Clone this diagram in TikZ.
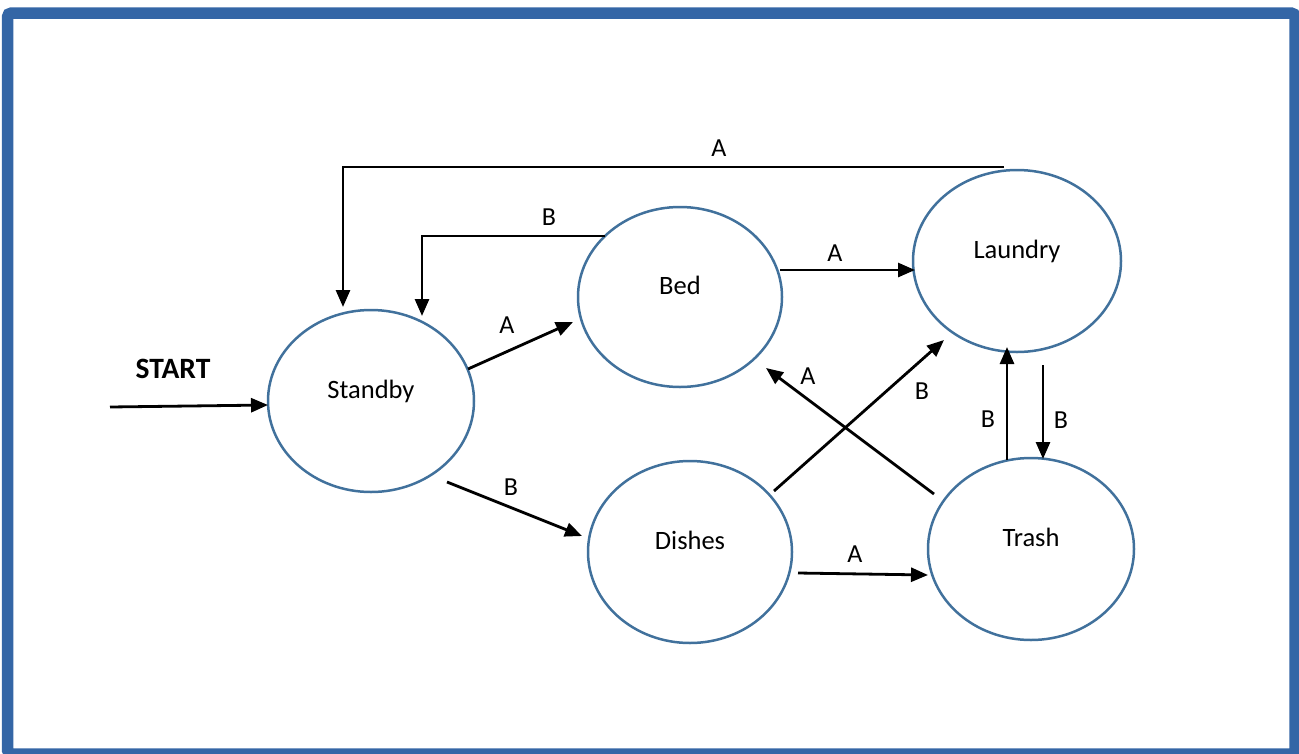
\documentclass[tikz,border=0pt]{standalone}
\usepackage{fontspec}
\setmainfont{Carlito}
\usetikzlibrary{arrows.meta,shapes.geometric,calc}
\definecolor{framec}{RGB}{52,102,166}
\definecolor{ellc}{RGB}{65,113,156}
\tikzset{
  state/.style={draw=ellc, line width=2.5pt, ellipse, inner sep=0pt,
    text height=8pt, text depth=13pt, font=\fontsize{26.5}{30}\selectfont},
  arr/.style={draw=black, line width=2.8pt, -{Triangle[length=17pt,width=14pt]}},
  lbl/.style={inner sep=0pt, font=\fontsize{26}{30}\selectfont}
}
\begin{document}
\begin{tikzpicture}[x=1pt,y=-1pt]
\useasboundingbox (0,0) rectangle (1299,753);
\draw[framec, line width=11.5pt, rounded corners=4pt] (7.5,13) rectangle (1295,754);

\node[state, minimum width=206pt, minimum height=182pt] (standby) at (371,401) {Standby};
\node[state, minimum width=204pt, minimum height=180pt] (bed) at (680,297) {Bed};
\node[state, minimum width=208pt, minimum height=182pt] (laundry) at (1017,261) {Laundry};
\node[state, minimum width=204pt, minimum height=182pt] (dishes) at (690,552) {Dishes};
\node[state, minimum width=206pt, minimum height=182pt] (trash) at (1031,549) {Trash};

\coordinate (startpt) at (110,407);
\node[lbl, font=\fontsize{29.5}{33}\selectfont\bfseries] (startlbl) at (173,369) {START};
\draw[arr] (startpt) -- ($(standby)+(-103,4)$);

\draw[arr] ($(laundry)+(-13,-94)$) -| ($(standby)+(-28,-94)$);
\node[lbl] (l1) at (719,148) {A};

\draw[arr] ($(bed)+(-75,-61)$) -| ($(standby)+(51,-85)$);
\node[lbl] (l2) at (549,217) {B};

\draw[arr] ($(standby)+(97,-32)$) -- ($(bed)+(-107,25)$);
\node[lbl] (l3) at (507,325) {A};

\draw[arr] ($(standby)+(76,81)$) -- ($(dishes)+(-108,-16)$);
\node[lbl] (l4) at (511,487) {B};

\draw[arr] ($(bed)+(100,-27)$) -- ($(laundry)+(-102,9)$);
\node[lbl] (l5) at (835,253) {A};

\draw[arr] ($(dishes)+(84,-61)$) -- ($(laundry)+(-73,79)$);
\node[lbl] (l6) at (922,391) {B};

\draw[arr] ($(trash)+(-97,-55)$) -- ($(bed)+(86,71)$);
\node[lbl] (l7) at (808,376) {A};

\draw[arr] ($(trash)+(-24,-89)$) -- ($(laundry)+(-10,86)$);
\node[lbl] (l8) at (988,419) {B};

\draw[arr] ($(laundry)+(26,104)$) -- ($(trash)+(12,-90)$);
\node[lbl] (l9) at (1061,420) {B};

\draw[arr] ($(dishes)+(108,21)$) -- ($(trash)+(-103,26)$);
\node[lbl] (l10) at (855,554) {A};
\end{tikzpicture}
\end{document}
